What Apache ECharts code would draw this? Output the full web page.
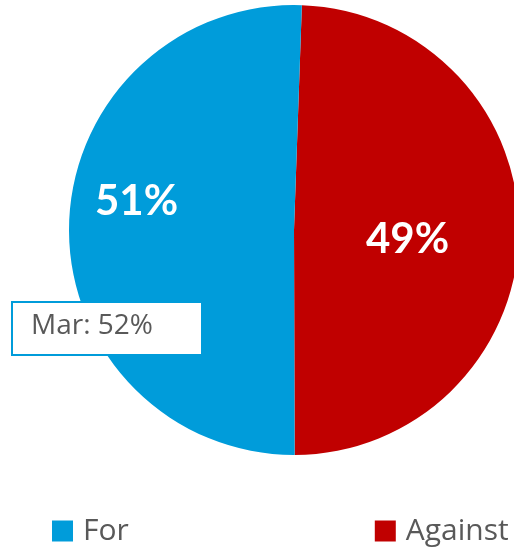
<!DOCTYPE html>
<html>
<head>
<meta charset="utf-8">
<style>
  html, body { margin: 0; padding: 0; background: #fff; }
  #chart { width: 514px; height: 553px; }
</style>
<script src="https://cdn.jsdelivr.net/npm/echarts@6/dist/echarts.min.js"></script>
</head>
<body>
<div id="chart"></div>
<script>
  // 数据
  const categories = ['Against', 'For']
  const values = [49.4, 50.6]
  const colors = ['#C00000', '#009CDA']
  const noteText = 'Mar: 52%'

  const myChart = echarts.init(document.getElementById('chart'))
  // 标签偏移
  const labelShift = [[-2, 8], [-42, -27]]

  const option = {
    animation: false,
    legend: {
      data: ['For', 'Against'],
      icon: 'rect',
      left: 52,
      bottom: 7,
      padding: 0,
      itemWidth: 21,
      itemHeight: 21,
      itemGap: 246,
      textStyle: {
        color: '#595959',
        fontSize: 30,
        fontFamily: 'Open Sans',
        padding: [0, 0, 0, 5]
      }
    },
    series: [
      {
        type: 'pie',
        center: [294, 230],
        radius: 225,
        startAngle: 88,
        clockwise: true,
        data: categories.map((name, i) => ({
          name: name,
          value: values[i],
          itemStyle: { color: colors[i] }
        })),
        label: {
          show: true,
          position: 'inside',
          formatter: p => Math.round(p.percent) + '%',
          color: '#fff',
          fontSize: 42,
          fontWeight: 'bold',
          fontFamily: 'Lato'
        },
        labelLayout: p => ({ dx: labelShift[p.dataIndex][0], dy: labelShift[p.dataIndex][1] }),
        labelLine: { show: false },
        emphasis: { disabled: true }
      }
    ],
    graphic: [
      {
        type: 'rect',
        z: 100,
        left: 11,
        top: 301,
        shape: { width: 190, height: 53 },
        style: { fill: '#fff', stroke: '#009CDA', lineWidth: 2 }
      },
      {
        type: 'text',
        z: 101,
        left: 31,
        top: 312,
        style: { text: noteText, fill: '#595959', fontSize: 28, fontFamily: 'Open Sans' }
      }
    ]
  }
  myChart.setOption(option)
</script>
</body>
</html>
